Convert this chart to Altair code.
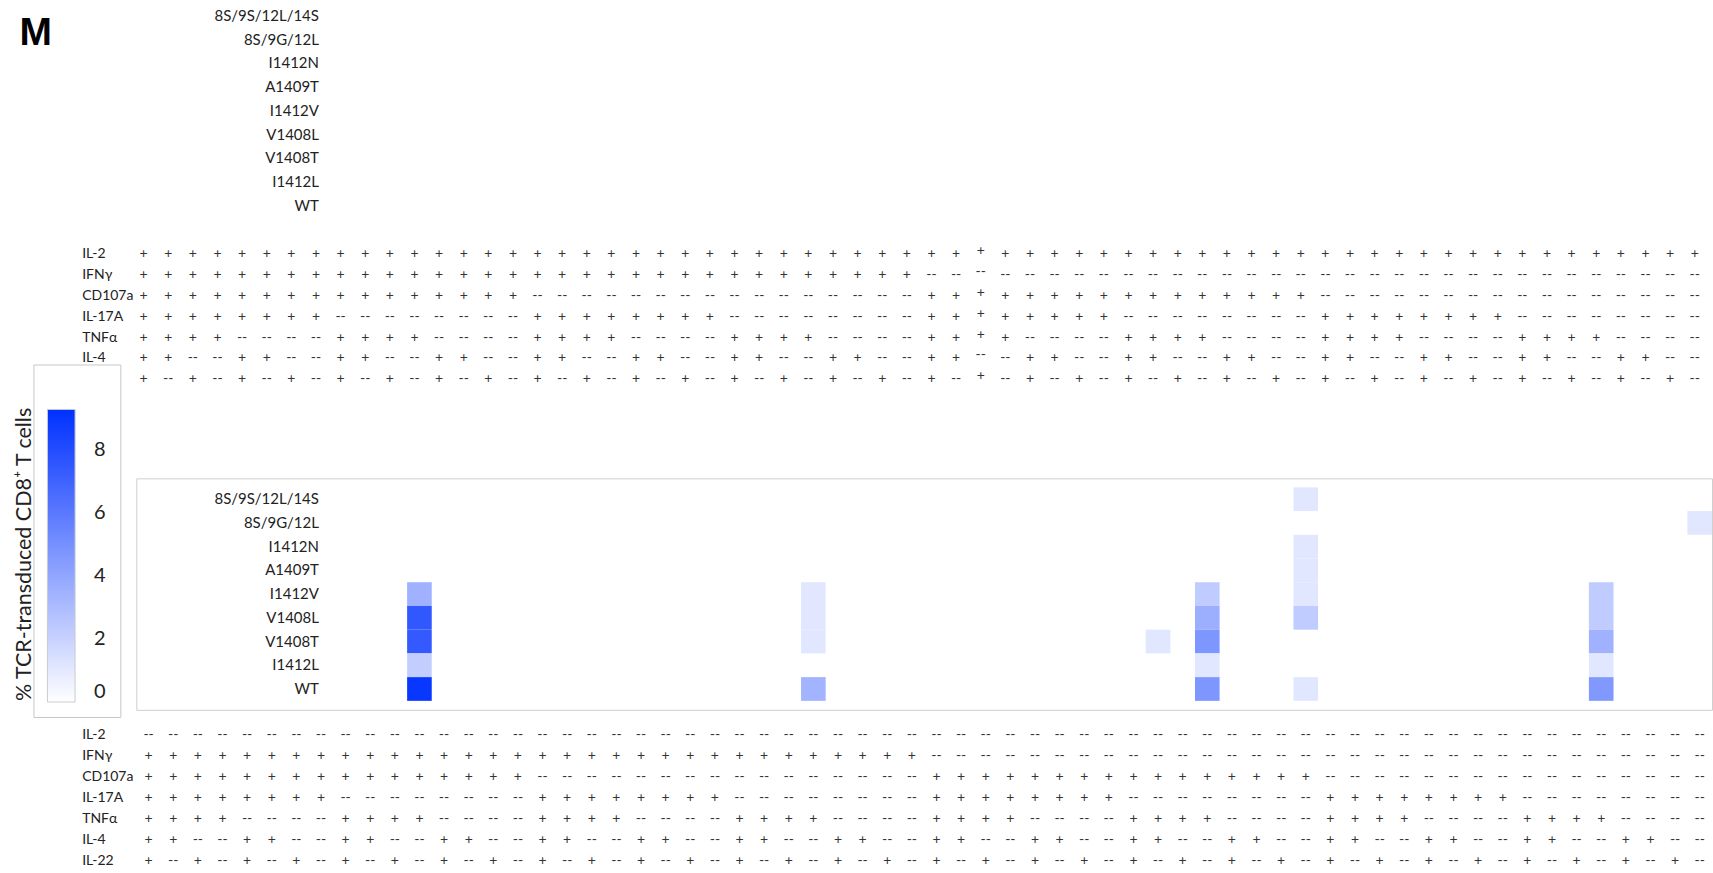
import altair as alt
import pandas as pd

# ---------------- data ----------------
mutants = ["8S/9S/12L/14S", "8S/9G/12L", "I1412N", "A1409T", "I1412V",
           "V1408L", "V1408T", "I1412L", "WT"]
cytokines = ["IL-2", "IFNγ", "CD107a", "IL-17A", "TNFα", "IL-4", "IL-22"]
columns = list(range(64))

# '+' = positive, '-' = negative (printed as '--'); groups of 8 columns
top_rows = [
    "++++++++ ++++++++ ++++++++ ++++++++ ++++++++ ++++++++ ++++++++ ++++++++",  # IL-2
    "++++++++ ++++++++ ++++++++ ++++++++ -------- -------- -------- --------",  # IFNγ
    "++++++++ ++++++++ -------- -------- ++++++++ ++++++++ -------- --------",  # CD107a
    "++++++++ -------- ++++++++ -------- ++++++++ -------- ++++++++ --------",  # IL-17A
    "++++---- ++++---- ++++---- ++++---- ++++---- ++++---- ++++---- ++++----",  # TNFα
    "++--++-- ++--++-- ++--++-- ++--++-- ++--++-- ++--++-- ++--++-- ++--++--",  # IL-4
    "+-+-+-+- +-+-+-+- +-+-+-+- +-+-+-+- +-+-+-+- +-+-+-+- +-+-+-+- +-+-+-+-",  # IL-22
]
bottom_rows = [
    "-------- -------- -------- -------- -------- -------- -------- --------",  # IL-2
    "++++++++ ++++++++ ++++++++ ++++++++ -------- -------- -------- --------",  # IFNγ
    "++++++++ ++++++++ -------- -------- ++++++++ ++++++++ -------- --------",  # CD107a
    "++++++++ -------- ++++++++ -------- ++++++++ -------- ++++++++ --------",  # IL-17A
    "++++---- ++++---- ++++---- ++++---- ++++---- ++++---- ++++---- ++++----",  # TNFα
    "++--++-- ++--++-- ++--++-- ++--++-- ++--++-- ++--++-- ++--++-- ++--++--",  # IL-4
    "+-+-+-+- +-+-+-+- +-+-+-+- +-+-+-+- +-+-+-+- +-+-+-+- +-+-+-+- +-+-+-+-",  # IL-22
]
shifted_top_col = 34  # column printed slightly higher in the original

# heatmap cells (bottom panel): mutant, column, % of TCR-transduced CD8+ T cells
heat_mutant = ["I1412V", "V1408L", "V1408T", "I1412L", "WT",
               "I1412V", "V1408L", "V1408T", "WT",
               "V1408T",
               "I1412V", "V1408L", "V1408T", "I1412L", "WT",
               "8S/9S/12L/14S", "I1412N", "A1409T", "I1412V", "V1408L", "WT",
               "I1412V", "V1408L", "V1408T", "I1412L", "WT",
               "8S/9G/12L"]
heat_col = [11, 11, 11, 11, 11,
            27, 27, 27, 27,
            41,
            43, 43, 43, 43, 43,
            47, 47, 47, 47, 47, 47,
            59, 59, 59, 59, 59,
            63]
heat_value = [3.5, 7.5, 7.4, 2.2, 9.0,
              1.1, 1.1, 1.1, 3.4,
              1.1,
              2.3, 3.6, 4.7, 1.1, 4.7,
              1.1, 1.1, 1.1, 1.1, 2.3, 1.1,
              2.3, 2.3, 3.5, 1.1, 4.6,
              1.1]
legend_ticks = [0, 2, 4, 6, 8]
color_domain = [0, 9.3]


def sign_table(rows):
    recs = []
    for name, row in zip(cytokines, rows):
        s = row.replace(" ", "")
        assert len(s) == 64
        for c, ch in zip(columns, s):
            recs.append({"cytokine": name, "col": c, "sign": "+" if ch == "+" else "--"})
    return pd.DataFrame(recs)


top_df = sign_table(top_rows)
bottom_df = sign_table(bottom_rows)
heat_df = pd.DataFrame({"mutant": heat_mutant, "col": heat_col, "value": heat_value})
top_heat_df = pd.DataFrame({"mutant": mutants, "col": [0] * len(mutants)})

# ---------------- layout constants ----------------
PW = 1578
FONT = "Lato"
TXT = "#222222"
MUT_STEP = 23.76
CYT_STEP = 20.9
CYT_STEP_BOTTOM = 21.0

x_enc = alt.X("col:O", scale=alt.Scale(type="band", domain=columns, paddingInner=0,
                                       paddingOuter=0), axis=None)


def mutant_axis(**kw):
    return alt.Axis(orient="left", offset=-182.4, domain=False, ticks=False, tickSize=0,
                    labelPadding=0, labelAlign="right", labelBaseline="middle",
                    labelFont=FONT, labelFontSize=15, labelColor=TXT, grid=False, **kw)


table_axis = alt.Axis(title=None, orient="left", domain=False, ticks=False, tickSize=0,
                      labelPadding=54.7, labelAlign="left", labelBaseline="middle",
                      labelFont=FONT, labelFontSize=14, labelColor=TXT, grid=False)

# ---- panel 1: top heatmap (empty); the gap below is its band range's outer padding ----
gap1 = 25.7
p1 = alt.Chart(top_heat_df).mark_rect(opacity=0).encode(
    x=x_enc,
    y=alt.Y("mutant:N",
            scale=alt.Scale(type="band", domain=mutants, paddingInner=0,
                            paddingOuter=gap1 / 2 / MUT_STEP, align=0),
            axis=mutant_axis(title=None)),
).properties(
    width=PW, height=9 * MUT_STEP + gap1,
    title=alt.TitleParams("M", anchor="start", frame="group", orient="top", offset=0,
                          dx=-117, dy=80.5, baseline="alphabetic", font="Liberation Sans",
                          fontSize=39, fontWeight="bold", color="black"),
)


def table(df, y_scale, height, dx=0, shifted=None):
    y = alt.Y("cytokine:N", scale=y_scale, axis=table_axis)
    base = alt.Chart(df).encode(x=x_enc, y=y, text="sign:N")
    style = dict(font=FONT, fontSize=14, color="#333333", dx=dx)
    if shifted is None:
        return base.mark_text(**style).properties(width=PW, height=height)
    main = base.transform_filter(f"datum.col != {shifted}").mark_text(**style)
    up = base.transform_filter(f"datum.col == {shifted}").mark_text(dy=-3, **style)
    return alt.layer(main, up).properties(width=PW, height=height)


# ---- panel 2: top sign table; rows occupy the upper part, a gap follows ----
gap2 = 87.9
p2 = table(top_df,
           alt.Scale(type="band", domain=cytokines, paddingInner=0, paddingOuter=0,
                     range=[0, 7 * CYT_STEP]),
           height=7 * CYT_STEP + gap2, dx=-5, shifted=shifted_top_col)

# ---- panel 3: bottom heatmap inside its box ----
p3 = alt.Chart(heat_df).mark_rect().encode(
    x=x_enc,
    y=alt.Y("mutant:N",
            scale=alt.Scale(type="band", domain=mutants, paddingInner=0, paddingOuter=0.379),
            axis=mutant_axis(title="% TCR-transduced CD8⁺ T cells", titleX=-294.3, titleY=75.7,
                             titleAngle=270, titleAlign="center", titleBaseline="middle",
                             titleFont=FONT, titleFontSize=21.5, titleFontWeight="normal",
                             titleColor=TXT)),
    color=alt.Color("value:Q",
                    scale=alt.Scale(domain=color_domain, range=["#ffffff", "#0030ff"],
                                    interpolate="rgb"),
                    legend=alt.Legend(title=" ", titleFontSize=8, titlePadding=23,
                                      orient="none", legendX=-103, legendY=-114,
                                      direction="vertical", gradientLength=293,
                                      gradientThickness=27.7, gradientStrokeColor="#cccccc",
                                      gradientStrokeWidth=1, values=legend_ticks,
                                      labelFont=FONT, labelFontSize=20, labelColor=TXT,
                                      labelOffset=19, labelBaseline="middle",
                                      labelOverlap=False, fillColor="white",
                                      strokeColor="#c8c8c8", padding=14)),
).properties(width=PW, height=9 * MUT_STEP + 18,
             view=alt.ViewBackground(stroke="#cfcfcf", strokeWidth=1))

# ---- panel 4: bottom sign table, gap above ----
gap4 = 15.0
p4 = table(bottom_df,
           alt.Scale(type="band", domain=cytokines, paddingInner=0,
                     paddingOuter=gap4 / 2 / CYT_STEP_BOTTOM, align=1),
           height=7 * CYT_STEP_BOTTOM + gap4)

chart = alt.vconcat(p1, p2, p3, p4, spacing=0, bounds="flush").resolve_scale(
    y="independent", color="independent").resolve_legend(color="independent").properties(
    padding={"left": 12.5, "top": 3.4, "right": 0, "bottom": 0},
    background="white",
).configure_view(stroke=None)

chart.save("out.html", embed_options={"renderer": "svg", "actions": False})
